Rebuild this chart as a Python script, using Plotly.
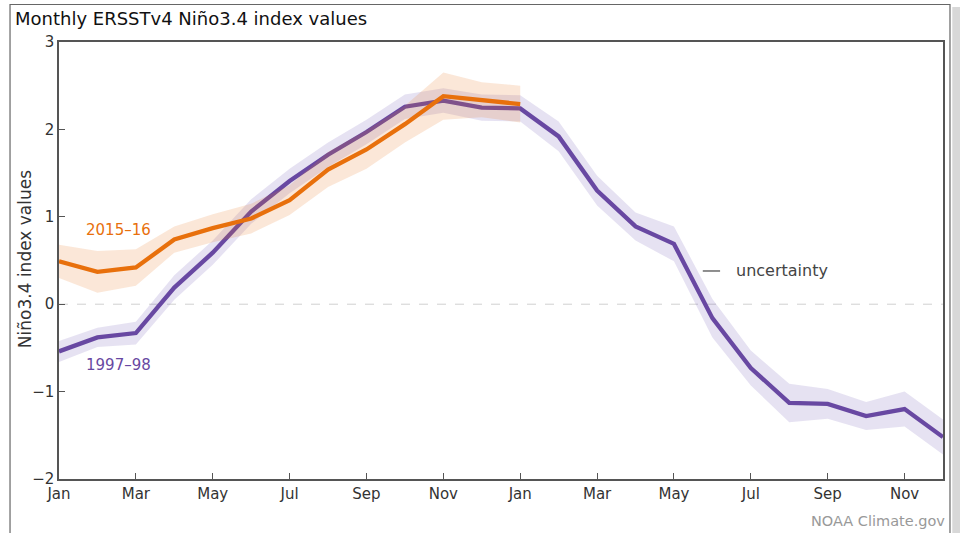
import plotly.graph_objects as go

# ---- data ----
month_ticks = ["Jan", "Mar", "May", "Jul", "Sep", "Nov", "Jan", "Mar", "May", "Jul", "Sep", "Nov"]
months_9798 = list(range(24))
nino_9798 = [-0.54, -0.38, -0.33, 0.19, 0.59, 1.06, 1.41, 1.71, 1.97, 2.26, 2.33, 2.25,
             2.24, 1.92, 1.30, 0.89, 0.69, -0.16, -0.73, -1.13, -1.14, -1.28, -1.20, -1.52]
unc_9798 = [0.12, 0.11, 0.13, 0.14, 0.14, 0.14, 0.14, 0.14, 0.14, 0.14, 0.14, 0.15,
            0.15, 0.17, 0.17, 0.16, 0.20, 0.22, 0.20, 0.22, 0.17, 0.16, 0.20, 0.20]
months_1516 = list(range(13))
nino_1516 = [0.49, 0.37, 0.42, 0.74, 0.87, 0.98, 1.19, 1.54, 1.77, 2.06, 2.38, 2.34, 2.29]
unc_1516 = [0.19, 0.24, 0.21, 0.15, 0.16, 0.17, 0.17, 0.20, 0.22, 0.21, 0.27, 0.20, 0.21]
y_ticks = [-2, -1, 0, 1, 2, 3]

ORANGE = "#E8700C"
PURPLE = "#6848A2"
FONT = "DejaVu Sans"

def band(x, y, u):
    upper = [a + b for a, b in zip(y, u)]
    lower = [a - b for a, b in zip(y, u)]
    return list(x) + list(x)[::-1], upper + lower[::-1]

fig = go.Figure()
bx, by = band(months_9798, nino_9798, unc_9798)
fig.add_trace(go.Scatter(x=bx, y=by, fill="toself", fillcolor="rgba(90,60,168,0.15)",
                         line=dict(width=0), hoverinfo="skip", showlegend=False))
fig.add_trace(go.Scatter(x=months_9798, y=nino_9798, mode="lines",
                         line=dict(color=PURPLE, width=4.3), showlegend=False))
bx, by = band(months_1516, nino_1516, unc_1516)
fig.add_trace(go.Scatter(x=bx, y=by, fill="toself", fillcolor="rgba(235,120,40,0.18)",
                         line=dict(width=0), hoverinfo="skip", showlegend=False))
fig.add_trace(go.Scatter(x=months_1516, y=nino_1516, mode="lines",
                         line=dict(color=ORANGE, width=4.3), showlegend=False))

fig.update_layout(
    width=960, height=533,
    margin=dict(l=59, r=17, t=42, b=54),
    paper_bgcolor="white", plot_bgcolor="white",
    font=dict(family=FONT, color="#333"),
    xaxis=dict(range=[0, 23], tickvals=list(range(0, 23, 2)), ticktext=month_ticks,
               ticks="inside", ticklen=6, tickcolor="#555", tickwidth=1,
               showline=True, linecolor="#555", linewidth=1.5, mirror=True,
               showgrid=False, zeroline=False, tickfont=dict(size=15, color="#333")),
    yaxis=dict(range=[-2, 3], tickvals=y_ticks,
               ticks="inside", ticklen=6, tickcolor="#555", tickwidth=1,
               showline=True, linecolor="#555", linewidth=1.5, mirror=True,
               showgrid=False, zeroline=False, tickfont=dict(size=15, color="#333")),
    shapes=[
        dict(type="line", xref="x", yref="y", x0=0, x1=23, y0=0, y1=0,
             line=dict(color="#d0d0d0", width=1, dash="dash"), layer="below"),
        # outer frame
        dict(type="rect", xref="paper", yref="paper", x0=-0.0554, x1=1.0079, y0=-0.3, y1=1.0858,
             line=dict(color="#666", width=1.2), fillcolor="rgba(0,0,0,0)", layer="below"),
        dict(type="rect", xref="paper", yref="paper", x0=1.0105, x1=1.03, y0=-0.3, y1=1.08,
             line=dict(width=0), fillcolor="rgba(190,190,190,0.6)", layer="below"),
    ],
    annotations=[
        dict(text="Monthly ERSSTv4 Niño3.4 index values", xref="paper", yref="paper",
             x=-0.0521, y=1.054, xanchor="left", yanchor="middle", showarrow=False,
             font=dict(size=18, color="#111")),
        dict(text="Niño3.4 index values", xref="paper", yref="paper", x=-0.0385, y=0.503,
             xanchor="center", yanchor="middle", textangle=-90, showarrow=False,
             font=dict(size=17, color="#333")),
        dict(text="2015–16", x=1.55, y=0.85, xref="x", yref="y", showarrow=False,
             font=dict(size=15, color=ORANGE)),
        dict(text="1997–98", x=1.55, y=-0.70, xref="x", yref="y", showarrow=False,
             font=dict(size=15, color=PURPLE)),
        dict(text="uncertainty", x=17.55, y=0.38, xref="x", yref="y", xanchor="left",
             showarrow=False, font=dict(size=16, color="#444")),
        dict(text="NOAA Climate.gov", xref="paper", yref="paper", x=1.0045, y=-0.096,
             xanchor="right", yanchor="middle", showarrow=False, font=dict(size=14.5, color="#999")),
    ],
)
fig.add_shape(type="line", xref="x", yref="y", x0=16.75, x1=17.2, y0=0.38, y1=0.38,
              line=dict(color="#444", width=1.2))

fig.write_html("out.html", config={"displayModeBar": False},
               post_script="document.body.style.margin='0';document.body.style.overflow='hidden';")
